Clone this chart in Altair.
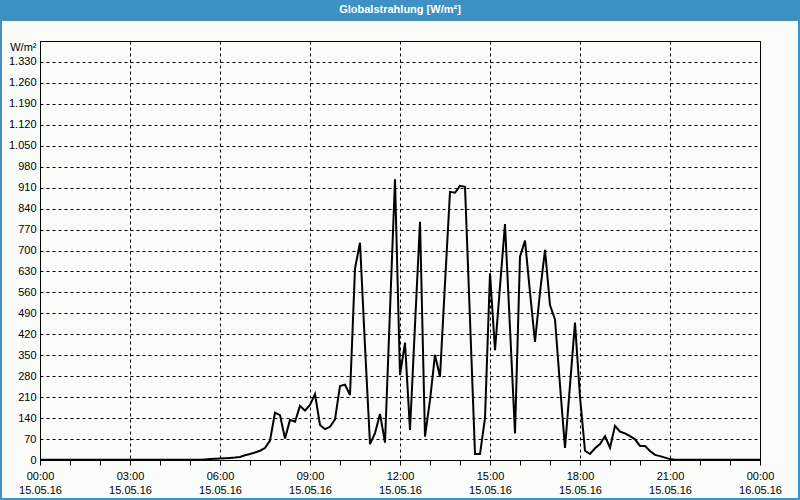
import altair as alt
import pandas as pd

# ---- data (10-minute values) ----
minutes = list(range(0, 24 * 60 + 1, 10))
values = [
    1, 1, 1, 1, 1, 1, 1, 1, 1, 1, 1, 1, 1, 1, 1, 1,      # 00:00-02:30
    1, 1, 1, 1, 1, 1, 1, 1, 1, 1, 1, 1, 1, 1, 1, 1,      # 02:40-05:10
    1, 2, 3, 4, 5, 6, 7, 8,                              # 05:20-06:30
    10, 16, 20, 25, 31, 40, 65, 158,                     # 06:40-07:50
    150, 72, 134, 128, 181, 165, 184, 220,               # 08:00-09:10
    117, 103, 111, 136, 247, 252, 217, 640,              # 09:20-10:30
    726, 380, 53, 90, 154, 58, 500, 938,                 # 10:40-11:50
    284, 392, 100, 450, 796, 78, 200, 351,               # 12:00-13:10
    278, 590, 896, 893, 916, 913, 470, 20,               # 13:20-14:30
    20, 140, 624, 367, 580, 788, 440, 89,                # 14:40-15:50
    679, 733, 560, 395, 560, 702, 518, 470,              # 16:00-17:10
    250, 40, 250, 459, 210, 31, 20, 39,                  # 17:20-18:30
    53, 80, 41, 114, 95, 89, 80, 69,                     # 18:40-19:50
    47, 47, 30, 17, 13, 8, 3, 1,                         # 20:00-21:10
    1, 1, 1, 1, 1, 1, 1, 1, 1, 1, 1, 1, 1, 1, 1, 1, 1,   # 21:20-24:00
]
y_ticks = [0, 70, 140, 210, 280, 350, 420, 490, 560, 630, 700, 770, 840,
           910, 980, 1050, 1120, 1190, 1260, 1330, 1400]
hour_marks = list(range(0, 25))
title_text = "Globalstrahlung [W/m²]"
unit_label = "W/m²"

df = pd.DataFrame({"hour": [m / 60 for m in minutes], "value": values})

FONT = "Liberation Sans"
BLUE = "#3d91c6"

x_scale = alt.Scale(domain=[0, 24], nice=False, zero=False)
y_scale = alt.Scale(domain=[0, 1400], nice=False)

x_axis = alt.Axis(
    values=hour_marks, title=None, grid=True, gridDash=[3, 3], gridColor="black",
    gridWidth=1,
    gridOpacity={"condition": {"test": "datum.value % 3 == 0", "value": 1},
                 "value": 0},
    ticks=True, tickSize=5, tickColor="black", tickWidth=1, domain=False,
    labelExpr="datum.value % 3 != 0 ? '' : "
              "[(datum.value % 24 < 10 ? '0' : '') + (datum.value % 24) + ':00', "
              "datum.value < 24 ? '15.05.16' : '16.05.16']",
    labelPadding=5, labelLineHeight=14, labelFont=FONT, labelFontSize=11,
    labelColor="black", labelOverlap=False, labelFlush=False,
)
y_axis = alt.Axis(
    values=y_ticks, title=None, grid=True, gridDash=[3, 3], gridColor="black",
    gridOpacity=1, gridWidth=1, ticks=False, domain=False,
    labelExpr="datum.value == 1400 ? '" + unit_label + "' : "
              "replace(format(datum.value, ','), ',', '.')",
    labelPadding=4, labelFont=FONT, labelFontSize=11, labelColor="black",
    labelOverlap=False, labelFlush=False,
    labelBaseline={"condition": {"test": "datum.value == 1400", "value": "top"},
                   "value": "middle"},
)

line = alt.Chart(df).mark_line(color="black", strokeWidth=2).encode(
    x=alt.X("hour:Q", scale=x_scale, axis=x_axis),
    y=alt.Y("value:Q", scale=y_scale, axis=y_axis),
)

one = alt.Data(values=[{"k": 1}])
title_bar = alt.Chart(one).mark_rect(color=BLUE).encode(
    x=alt.value(-40), x2=alt.value(760), y=alt.value(-41), y2=alt.value(-20),
)
frame = alt.Chart(one).mark_rect(fill=None, stroke=BLUE, strokeWidth=2,
                                 fillOpacity=0).encode(
    x=alt.value(-39), x2=alt.value(759), y=alt.value(-40), y2=alt.value(458),
)
title = alt.Chart(one).mark_text(
    text=title_text, color="white", font=FONT, fontSize=11, fontWeight="bold",
    align="center", baseline="middle",
).encode(x=alt.value(360), y=alt.value(-31))

chart = alt.layer(title_bar, frame, line, title).properties(
    width=720, height=419,
    padding={"left": 40, "top": 41, "right": 40, "bottom": 40},
    autosize=alt.AutoSizeParams(type="none"),
    background="#fafcfa",
).configure_view(stroke="black", strokeWidth=1)

chart.save("out.html", embed_options={"renderer": "svg", "actions": False})
